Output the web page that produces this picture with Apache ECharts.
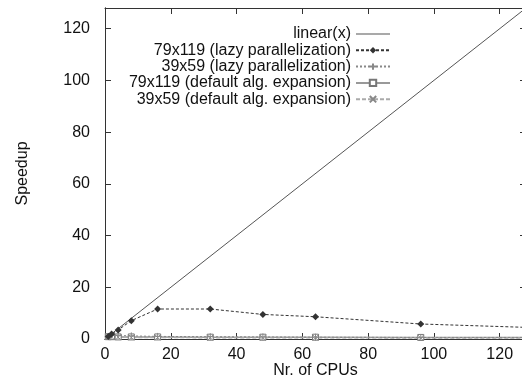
<!DOCTYPE html>
<html><head><meta charset="utf-8">
<script src="https://cdn.jsdelivr.net/npm/echarts@6/dist/echarts.min.js"></script>
<style>html,body{margin:0;padding:0;background:#fff}#c{width:522px;height:379px}</style>
</head><body><div id="c"></div>
<script>
const cpus = [1, 2, 4, 8, 16, 32, 48, 64, 96, 128];
const linearX = [0, 128];
const lazy79 = [1, 1.9, 3.5, 7.1, 11.6, 11.6, 9.5, 8.6, 5.8, 4.5];
const lazy39 = [1, 1.5, 1.4, 1.2, 1.0, 0.9, 0.8, 0.7, 0.6, 0.6];
const def79 = [0.9, 0.9, 0.8, 0.8, 0.8, 0.7, 0.7, 0.7, 0.6, 0.6];
const def39 = [0.9, 0.8, 0.7, 0.6, 0.6, 0.5, 0.5, 0.5, 0.4, 0.4];
const xTicks = [0, 20, 40, 60, 80, 100, 120];
const yTicks = [0, 20, 40, 60, 80, 100, 120];

const plus = 'path://M0,5L10,5M5,0L5,10';
const cross = 'path://M0,0L10,10M10,0L0,10';
const lineIcon = 'path://M0,0L100,0L100,3L0,3Z';
const font = 'Liberation Sans';
const pair = (xs, ys) => xs.map((x, i) => [x, ys[i]]);

const W = 522, H = 379;
const G = {left: 105, right: -4, top: 8, bottom: 40};
const gridW = W - G.left - G.right;
const gridH = H - G.top - G.bottom;

const chart = echarts.init(document.getElementById('c'));
function ax(extra) {
  return Object.assign({
    type: 'value', min: 0, max: 128, interval: 20,
    axisLine: {show: true, onZero: false, lineStyle: {color: '#333', width: 1}},
    axisTick: {show: true, inside: true, length: 6, lineStyle: {color: '#333', width: 1}},
    splitLine: {show: false}
  }, extra);
}
const noTick = {show: false};
const outTick = {show: true, inside: false, length: 6, lineStyle: {color: '#333', width: 1}};
const gridRect = Object.assign({containLabel: false, outerBoundsMode: 'none'}, G);
chart.setOption({
  animation: false,
  textStyle: {fontFamily: font},
  grid: [Object.assign({}, gridRect), Object.assign({}, gridRect)],
  legend: {
    orient: 'vertical', right: 126, top: 21, align: 'right',
    itemWidth: 34, itemHeight: 8, itemGap: 0.3,
    textStyle: {fontSize: 16, lineHeight: 16, color: '#111', fontFamily: font},
    data: [{name: 'linear(x)', icon: lineIcon}, '79x119 (lazy parallelization)', '39x59 (lazy parallelization)',
           '79x119 (default alg. expansion)', '39x59 (default alg. expansion)']
  },
  xAxis: [
    ax({
      gridIndex: 0, position: 'bottom', axisTick: noTick,
      name: 'Nr. of CPUs', nameLocation: 'middle', nameGap: 24, nameMoveOverlap: false,
      nameTextStyle: {fontSize: 16, color: '#111', fontFamily: font},
      axisLabel: {fontSize: 16, color: '#111', margin: 8, fontFamily: font,
        formatter: v => xTicks.includes(v) ? String(v) : ''}
    }),
    ax({gridIndex: 0, position: 'top', axisLabel: {show: false}}),
    ax({gridIndex: 1, position: 'top', offset: -gridH, axisTick: outTick, axisLabel: {show: false}})
  ],
  yAxis: [
    ax({
      gridIndex: 0, position: 'left', axisTick: noTick,
      name: 'Speedup', nameLocation: 'middle', nameGap: 74, nameRotate: 90, nameMoveOverlap: false,
      nameTextStyle: {fontSize: 16, color: '#111', fontFamily: font},
      axisLabel: {fontSize: 16, color: '#111', margin: 15, fontFamily: font,
        formatter: v => yTicks.includes(v) ? String(v) : ''}
    }),
    ax({gridIndex: 0, position: 'right', axisLabel: {show: false}}),
    ax({gridIndex: 1, position: 'right', offset: -gridW, axisTick: outTick, axisLabel: {show: false}})
  ],
  series: [
    {name: 'linear(x)', type: 'line', data: pair(linearX, linearX), showSymbol: false, symbol: 'none',
     lineStyle: {color: '#555', width: 1}, itemStyle: {color: '#555'}, clip: true, z: 2},
    {name: '79x119 (lazy parallelization)', type: 'line', data: pair(cpus, lazy79),
     symbol: 'diamond', symbolSize: 7,
     lineStyle: {color: '#333', width: 1, type: [3, 2]}, itemStyle: {color: '#333'}, z: 5},
    {name: '39x59 (lazy parallelization)', type: 'line', data: pair(cpus, lazy39),
     symbol: plus, symbolSize: 7,
     lineStyle: {color: '#888', width: 1, type: [2, 2]},
     itemStyle: {color: '#888', borderColor: '#888', borderWidth: 1}, z: 4},
    {name: '79x119 (default alg. expansion)', type: 'line', data: pair(cpus, def79),
     symbol: 'rect', symbolSize: 6,
     lineStyle: {color: '#999', width: 1.5},
     itemStyle: {color: '#fff', borderColor: '#777', borderWidth: 1}, z: 3},
    {name: '39x59 (default alg. expansion)', type: 'line', data: pair(cpus, def39),
     symbol: cross, symbolSize: 6,
     lineStyle: {color: '#aaa', width: 1.5, type: [4, 2]},
     itemStyle: {color: '#888', borderColor: '#888', borderWidth: 1}, z: 3}
  ]
});
</script></body></html>
